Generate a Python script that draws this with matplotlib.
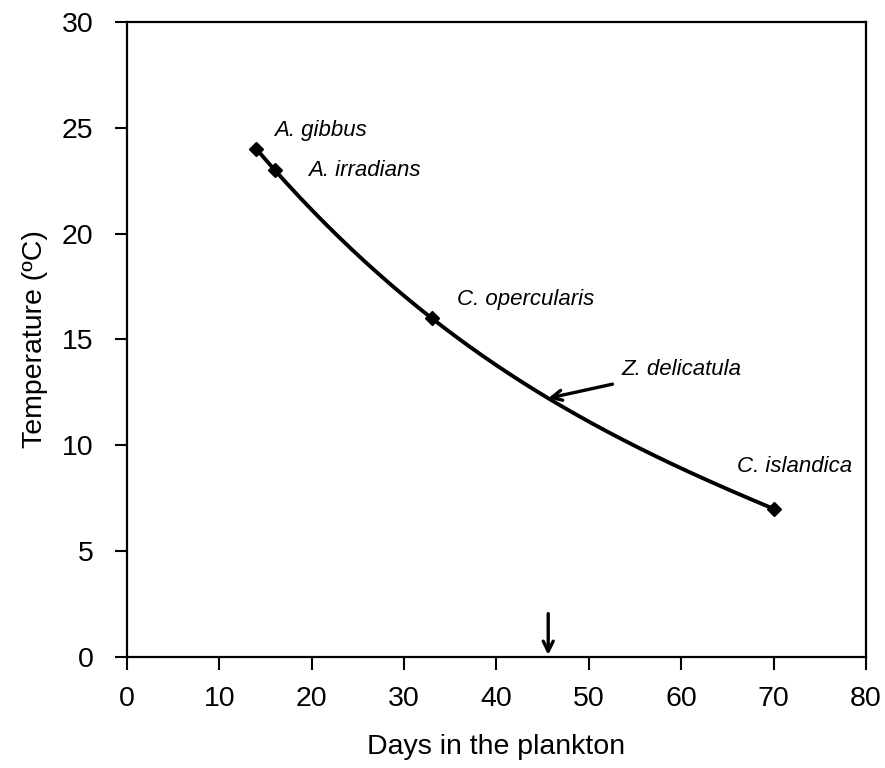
import numpy as np
import matplotlib
matplotlib.use("Agg")
import matplotlib.pyplot as plt

plt.rcParams["font.family"] = ["Liberation Sans", "DejaVu Sans"]

# === Data ===
species = ["A. gibbus", "A. irradians", "C. opercularis", "C. islandica"]
days = [14, 16, 33, 70]
temps = [24, 23, 16, 7]
label_pos = [(15.9, 24.85), (19.6, 23.0), (35.7, 16.9), (66.0, 9.0)]
zdel_day = 45.6
x_ticks = [0, 10, 20, 30, 40, 50, 60, 70, 80]
y_ticks = [0, 5, 10, 15, 20, 25, 30]

# smooth curve through the points (cubic)
coef = np.polyfit(days, temps, 3)
xs = np.linspace(days[0], days[-1], 200)
ys = np.polyval(coef, xs)
zdel_temp = np.polyval(coef, zdel_day)

fig = plt.figure(figsize=(8.85, 7.68), dpi=100)
ax = fig.add_axes([0.1435, 0.1445, 0.835, 0.827])

ax.plot(xs, ys, color="black", lw=2.8)
ax.plot(days, temps, "D", color="black", ms=7)

for name, (tx, ty) in zip(species, label_pos):
    ax.text(tx, ty, name, fontsize=16, style="italic", va="center", ha="left")

# Z. delicatula arrow onto the curve
ax.annotate("Z. delicatula", xy=(zdel_day, zdel_temp), xytext=(53.5, 13.6),
            fontsize=16, style="italic", va="center", ha="left",
            arrowprops=dict(arrowstyle="->", lw=2.4, color="black",
                            shrinkA=6, shrinkB=0, mutation_scale=18))

# arrow on the x axis
ax.annotate("", xy=(zdel_day, 0.1), xytext=(zdel_day, 2.05),
            arrowprops=dict(arrowstyle="->", lw=2.4, color="black",
                            shrinkA=0, shrinkB=0, mutation_scale=18))

ax.set_xlim(0, 80)
ax.set_ylim(0, 30)
ax.set_xticks(x_ticks)
ax.set_yticks(y_ticks)
ax.tick_params(direction="out", length=9, width=1.5, labelsize=20.5)
ax.tick_params(axis="x", pad=12)
ax.tick_params(axis="y", pad=15)
for s in ax.spines.values():
    s.set_linewidth(1.6)

ax.set_xlabel("Days in the plankton", fontsize=20.5, labelpad=16)
ax.set_ylabel("Temperature (ºC)", fontsize=20.5, labelpad=10)

fig.savefig("out.png", dpi=100)
